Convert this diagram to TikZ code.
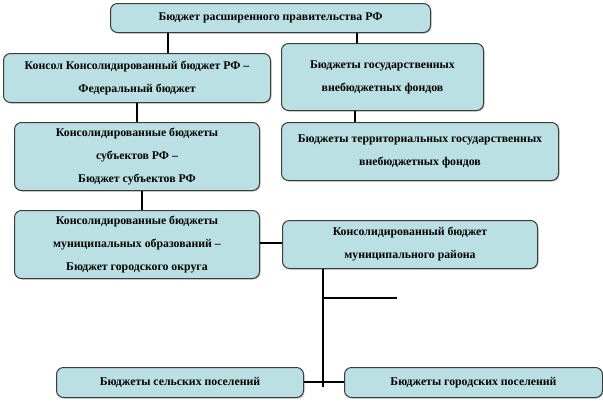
\documentclass[tikz,border=0pt]{standalone}
\usepackage{fontspec}
\setmainfont{Liberation Serif}
\usetikzlibrary{shadows}
\definecolor{boxfill}{RGB}{186,224,227}
\definecolor{boxline}{RGB}{60,60,60}
\begin{document}
\begin{tikzpicture}[x=1pt,y=-1pt,
  box/.style={draw=boxline, line width=1pt, fill=boxfill, rounded corners=7pt,
    inner sep=0pt, align=center, anchor=north west,
    font=\bfseries\fontsize{11.8}{23}\selectfont,
    drop shadow={shadow xshift=1pt, shadow yshift=-1pt, opacity=0.45}},
  link/.style={line width=2.6pt, black}]
\useasboundingbox[fill=white] (0,0) rectangle (603,416);

\node[box, minimum width=320pt, minimum height=29pt] (b1) at (110,3)
  {Бюджет расширенного правительства РФ};
\node[box, minimum width=267pt, minimum height=49pt] (b2) at (3,53)
  {Консол Консолидированный бюджет РФ –\\Федеральный бюджет};
\node[box, minimum width=202pt, minimum height=67pt] (b3) at (281,43)
  {Бюджеты государственных\\внебюджетных фондов};
\node[box, minimum width=245pt, minimum height=68pt] (b4) at (14,122)
  {Консолидированные бюджеты\\субъектов РФ –\\Бюджет субъектов РФ};
\node[box, minimum width=277pt, minimum height=58pt] (b5) at (281,122)
  {Бюджеты территориальных государственных\\внебюджетных фондов};
\node[box, minimum width=245pt, minimum height=68pt] (b6) at (14,210)
  {Консолидированные бюджеты\\муниципальных образований –\\Бюджет городского округа};
\node[box, minimum width=255pt, minimum height=48pt] (b7) at (282,220)
  {Консолидированный бюджет\\муниципального района};
\node[box, minimum width=247pt, minimum height=30pt] (b8) at (56,367)
  {Бюджеты сельских поселений};
\node[box, minimum width=258pt, minimum height=30pt] (b9) at (344,367)
  {Бюджеты городских поселений};

\draw[link] (168,0 |- b1.south) -- (168,0 |- b2.north);
\draw[link] (357,0 |- b1.south) -- (357,0 |- b3.north);
\draw[link] (137,0 |- b2.south) -- (137,0 |- b4.north);
\draw[link] (355,0 |- b3.south) -- (355,0 |- b5.north);
\draw[link] (142,0 |- b4.south) -- (142,0 |- b6.north);
\draw[link] (b6.east |- 0,243) -- (b7.west |- 0,243);
\coordinate (vend) at (323,387);
\coordinate (j) at (323,298);
\coordinate (br) at (397,298);
\draw[link] (323,0 |- b7.south) -- (vend);
\draw[link] (j) -- (br);
\draw[link] (b8.east |- 0,382) -- (b9.west |- 0,382);
\end{tikzpicture}
\end{document}
